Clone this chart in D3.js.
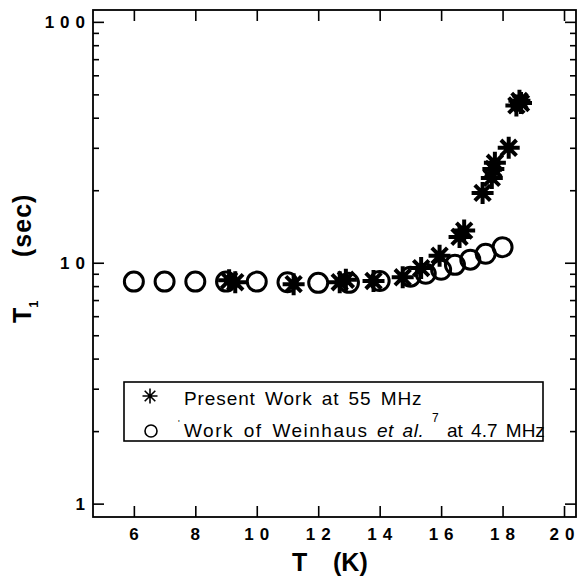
<!DOCTYPE html>
<html>
<head>
<meta charset="utf-8">
<script src="https://cdn.jsdelivr.net/npm/d3@7"></script>
<style>
body { margin: 0; background: #fff; }
text { font-family: "Liberation Sans", Arial, Helvetica, sans-serif; fill: #000; }
</style>
</head>
<body>
<div></div>
<script>
// Weinhaus et al. at 4.7 MHz (open circles)
var weinT  = [6, 7, 8, 9, 10, 11, 12, 13, 14, 15, 15.5, 16, 16.45, 16.95, 17.45, 18];
var weinT1 = [8.35, 8.35, 8.35, 8.35, 8.35, 8.3, 8.25, 8.25, 8.4, 8.75, 9.0, 9.35, 9.8, 10.3, 10.9, 11.6];
// present work at 55 MHz (asterisks)
var presT  = [9.1, 9.3, 11.2, 12.7, 12.9, 13.8, 14.75, 15.35, 15.95, 16.6, 16.75, 17.35, 17.65, 17.7, 17.75, 18.2, 18.45, 18.55, 18.6];
var presT1 = [8.45, 8.3, 8.15, 8.3, 8.5, 8.4, 8.7, 9.5, 10.7, 12.8, 13.6, 19.5, 22.5, 24.5, 26, 30, 45, 47, 46];

var xTicks = [6, 8, 10, 12, 14, 16, 18, 20];
var xLabels = ["6", "8", "10", "12", "14", "16", "18", "20"];
var yMajor = [1, 10, 100];
var yLabels = ["1", "10", "100"];
var yMinor = [2, 3, 4, 5, 6, 7, 8, 9, 20, 30, 40, 50, 60, 70, 80, 90];

var width = 579;
var height = 581;
var pLeft = 93, pRight = 576, pTop = 10, pBottom = 517;

var svg = d3.select('div')
    .append('svg')
    .attr('width', width)
    .attr('height', height);

var x = d3.scaleLinear().domain([4.67, 20.39]).range([pLeft, pRight]);
var y = d3.scaleLog().domain([0.88, 112]).range([pBottom, pTop]);

// ticks, all pointing inward
function ticks(axis, tr) {
    var g = svg.append('g').attr('transform', tr).call(axis);
    g.select('.domain').remove();
    g.selectAll('line').attr('stroke', '#000').attr('stroke-width', 1.6);
    g.selectAll('text').remove();
}
ticks(d3.axisBottom(x).tickValues(xTicks).tickSize(-11), 'translate(0,' + pBottom + ')');
ticks(d3.axisTop(x).tickValues(xTicks).tickSize(-11), 'translate(0,' + pTop + ')');
ticks(d3.axisLeft(y).tickValues(yMajor).tickSize(-11), 'translate(' + pLeft + ',0)');
ticks(d3.axisLeft(y).tickValues(yMinor).tickSize(-6), 'translate(' + pLeft + ',0)');
ticks(d3.axisRight(y).tickValues(yMajor).tickSize(-11), 'translate(' + pRight + ',0)');
ticks(d3.axisRight(y).tickValues(yMinor).tickSize(-6), 'translate(' + pRight + ',0)');

svg.append('rect')
    .attr('x', pLeft).attr('y', pTop)
    .attr('width', pRight - pLeft).attr('height', pBottom - pTop)
    .attr('fill', 'none').attr('stroke', '#000').attr('stroke-width', 1.8);

// tick labels
svg.append('g').selectAll('text')
    .data(xTicks)
    .enter()
    .append('text')
    .attr('x', (d) => Math.min(x(d) + 3, 565))
    .attr('y', 540)
    .attr('text-anchor', 'middle')
    .attr('font-size', 17)
    .attr('font-weight', 'bold')
    .attr('letter-spacing', 6)
    .text((d, i) => xLabels[i]);

svg.append('g').selectAll('text')
    .data(yMajor)
    .enter()
    .append('text')
    .attr('x', 91)
    .attr('y', (d) => y(d) + 6)
    .attr('text-anchor', 'end')
    .attr('font-size', 17)
    .attr('font-weight', 'bold')
    .attr('letter-spacing', 6)
    .text((d, i) => yLabels[i]);

// axis titles
var xt = svg.append('text')
    .attr('x', 292).attr('y', 571)
    .attr('font-size', 25).attr('font-weight', 'bold');
xt.append('tspan').text('T');
xt.append('tspan').attr('x', 333).text('(K)');

var yt = svg.append('text')
    .attr('transform', 'translate(31,323) rotate(-90)')
    .attr('font-size', 25).attr('font-weight', 'bold');
yt.append('tspan').text('T');
yt.append('tspan').attr('font-size', 13).attr('dy', 7).text('1');
yt.append('tspan').attr('x', 66).attr('dy', -7).attr('letter-spacing', 1).text('(sec)');

// markers
function asterisk(cx, cy, r) {
    var p = '';
    for (var k = 0; k < 4; k++) {
        var a = k * Math.PI / 4;
        var dx = r * Math.cos(a), dy = r * Math.sin(a);
        p += 'M' + (cx - dx) + ',' + (cy - dy) + 'L' + (cx + dx) + ',' + (cy + dy);
    }
    return p;
}

svg.append('g').selectAll('circle')
    .data(weinT)
    .enter()
    .append('circle')
    .attr('cx', (d) => x(d))
    .attr('cy', (d, i) => y(weinT1[i]))
    .attr('r', 9.5)
    .attr('fill', 'none')
    .attr('stroke', '#000')
    .attr('stroke-width', 3);

svg.append('g').selectAll('path')
    .data(presT)
    .enter()
    .append('path')
    .attr('d', (d, i) => asterisk(x(d), y(presT1[i]), 11))
    .attr('stroke', '#000')
    .attr('stroke-width', 4)
    .attr('fill', 'none');

// legend
var lg = svg.append('g');
lg.append('rect')
    .attr('x', 124).attr('y', 382).attr('width', 419).attr('height', 59)
    .attr('fill', '#fff').attr('stroke', '#000').attr('stroke-width', 1.6);
lg.append('path')
    .attr('d', asterisk(150, 396, 7.5))
    .attr('stroke', '#000').attr('stroke-width', 1.6);
lg.append('circle')
    .attr('cx', 151).attr('cy', 431).attr('r', 6)
    .attr('fill', 'none').attr('stroke', '#000').attr('stroke-width', 1.6);
lg.append('text')
    .attr('x', 184).attr('y', 405)
    .attr('font-size', 19).attr('letter-spacing', 0.9).attr('word-spacing', 3)
    .text('Present Work at 55 MHz');
var l2 = lg.append('text')
    .attr('y', 437)
    .attr('font-size', 19).attr('letter-spacing', 1.5).attr('word-spacing', 3);
l2.append('tspan').attr('x', 178).attr('dy', -11).attr('font-size', 9).text("'");
l2.append('tspan').attr('x', 184).attr('dy', 11).text('Work of Weinhaus');
l2.append('tspan').attr('x', 377).attr('font-style', 'italic').attr('letter-spacing', 0.5).text('et al.');
l2.append('tspan').attr('x', 432).attr('dy', -15).attr('font-size', 12).text('7');
l2.append('tspan').attr('x', 447).attr('dy', 15).attr('letter-spacing', 0).text('at 4.7 MHz');
</script>
</body>
</html>
